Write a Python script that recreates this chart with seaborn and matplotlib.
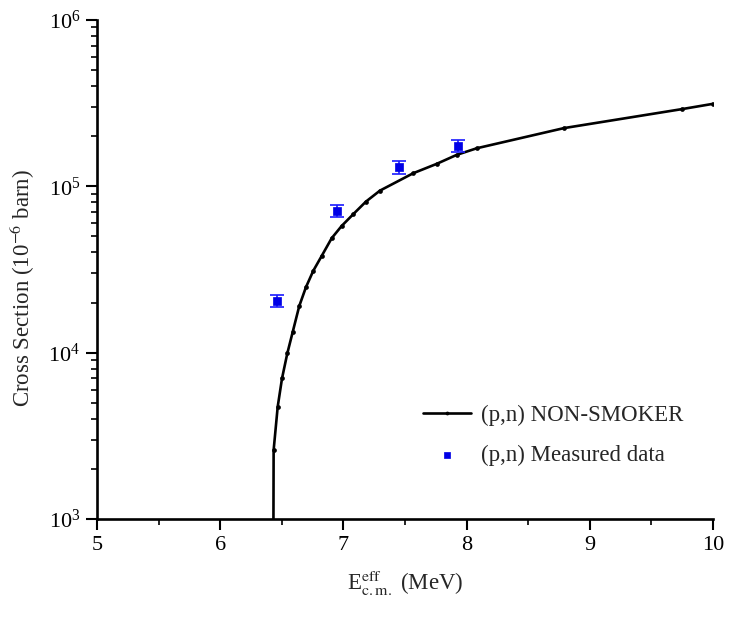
import matplotlib
matplotlib.use("Agg")
import matplotlib.pyplot as plt
import seaborn as sns
import numpy as np
import pandas as pd
from matplotlib.ticker import LogLocator, FixedLocator, NullFormatter

# NON-SMOKER curve
curve_x = [6.429, 6.434, 6.467, 6.502, 6.545, 6.588, 6.642, 6.696, 6.756, 6.824,
           6.905, 6.986, 7.080, 7.183, 7.297, 7.567, 7.757, 7.919, 8.082, 8.79,
           9.746, 10.0]
curve_y = [1.0e2, 2594, 4730, 7000, 9900, 13240, 19060, 24700, 31060, 38100,
           48700, 57700, 67900, 80800, 94100, 119700, 136200, 154200, 169000, 223400,
           290400, 312600]

# Measured data
meas_x = [6.459, 6.950, 7.450, 7.930]
meas_y = [20500, 71000, 130000, 175000]
meas_err = [1800, 6000, 11000, 15000]

sns.set_theme(style="ticks")
plt.rcParams['font.family'] = ['Liberation Serif', 'DejaVu Serif']
plt.rcParams['mathtext.fontset'] = 'stix'

fig = plt.figure(figsize=(7.29, 6.18), dpi=100)
ax = fig.add_axes([0.133, 0.160, 0.845, 0.808])

df_c = pd.DataFrame({"x": curve_x, "y": curve_y})
sns.lineplot(data=df_c, x="x", y="y", ax=ax, color="black", linewidth=1.9,
             marker="o", markersize=3.4, markeredgewidth=0,
             label="(p,n) NON-SMOKER", sort=False)

ax.errorbar(meas_x, meas_y, yerr=meas_err, fmt="none", ecolor="#1a1aff",
            elinewidth=1.2, capsize=5, capthick=1.2, zorder=3)
df_m = pd.DataFrame({"x": meas_x, "y": meas_y})
sns.scatterplot(data=df_m, x="x", y="y", ax=ax, color="#0000e6", marker="s",
                s=36, edgecolor="#0000e6", linewidth=0.5,
                label="(p,n) Measured data", zorder=4)

ax.set_yscale("log")
ax.set_xlim(5, 10)
ax.set_ylim(1e3, 1e6)

ax.xaxis.set_major_locator(FixedLocator([5, 6, 7, 8, 9, 10]))
ax.xaxis.set_minor_locator(FixedLocator([5.5, 6.5, 7.5, 8.5, 9.5]))
ax.yaxis.set_major_locator(LogLocator(base=10, numticks=10))
ax.yaxis.set_minor_locator(LogLocator(base=10, subs=np.arange(2, 10), numticks=20))
ax.yaxis.set_minor_formatter(NullFormatter())

for s in ["top", "right"]:
    ax.spines[s].set_visible(False)
for s in ["left", "bottom"]:
    ax.spines[s].set_linewidth(1.9)
    ax.spines[s].set_color("black")

ax.tick_params(axis="both", which="major", direction="out", length=8, width=1.5,
               labelsize=16, colors="black", pad=4)
ax.tick_params(axis="both", which="minor", direction="out", length=4.5, width=1.2,
               colors="black")

ax.set_xlabel(r"E$^{\mathrm{eff}}_{\mathrm{c.m.}}$ (MeV)", fontsize=16.5, labelpad=10)
ax.set_ylabel(r"Cross Section (10$^{-6}$ barn)", fontsize=16.5)
ax.yaxis.set_label_coords(-0.097, 0.463)

leg = ax.legend(loc="upper left", bbox_to_anchor=(0.515, 0.248), frameon=False,
                fontsize=16.5, handlelength=2.1, handletextpad=0.4, labelspacing=0.85,
                markerscale=0.8, borderaxespad=0)

fig.savefig("out.png", dpi=100, facecolor="white")
